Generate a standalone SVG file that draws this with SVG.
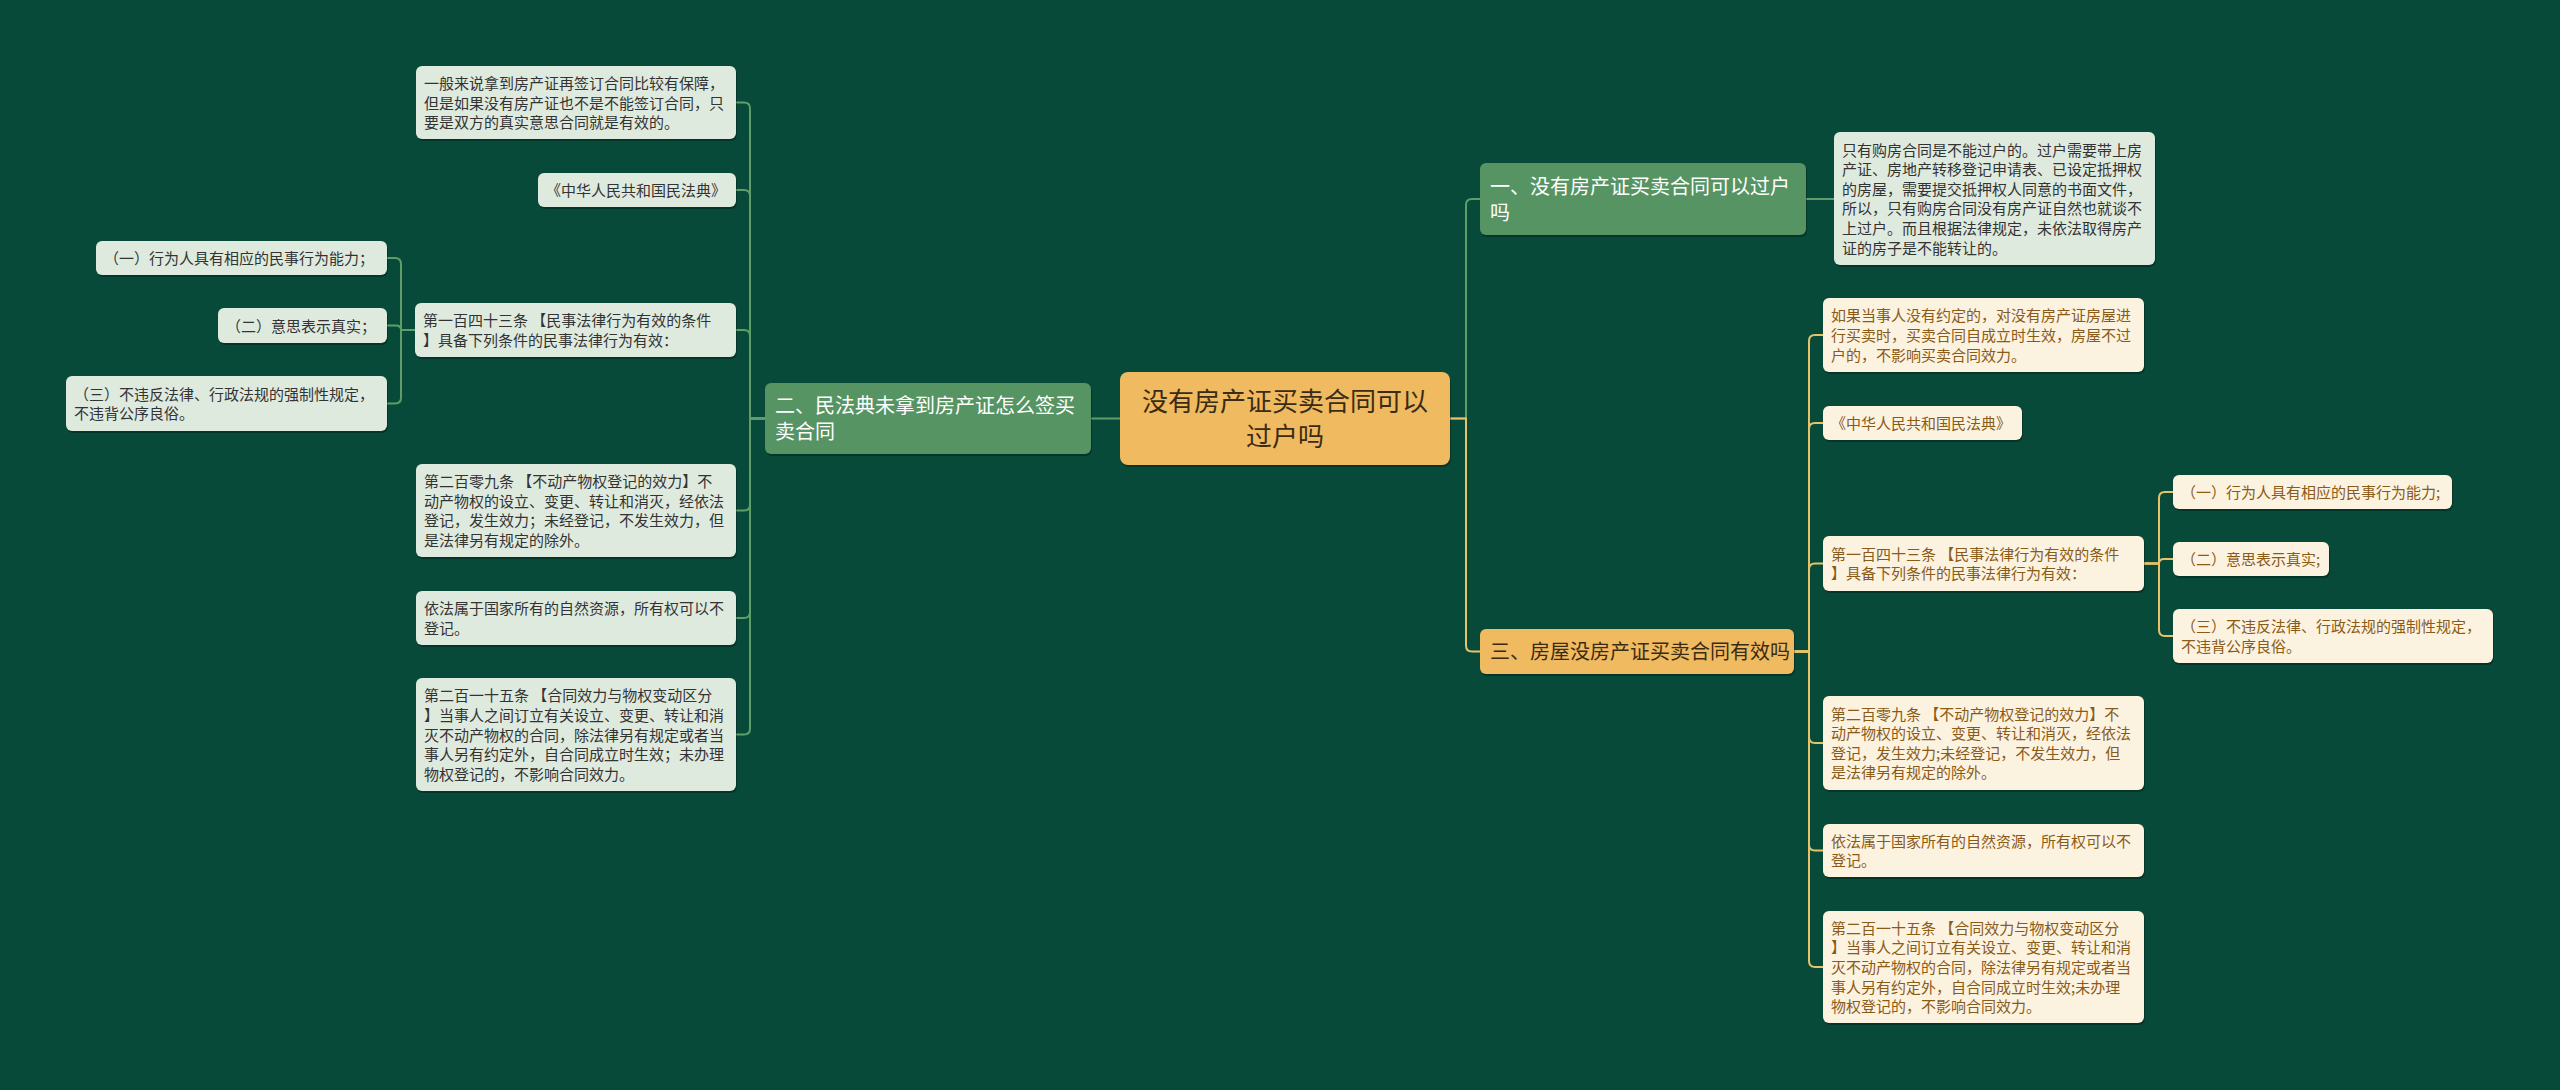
<svg xmlns="http://www.w3.org/2000/svg" width="2560" height="1090" viewBox="0 0 2560 1090">
<style>
text{font-family:"Noto Sans CJK SC","Noto Sans",sans-serif;}
.sh{fill:#000;opacity:0.28;}
.root{fill:#f0ba60;}
.gb{fill:#569463;}
.ob{fill:#f0ba60;}
.lg{fill:#dfeadf;}
.cr{fill:#fcf2e0;}
.tr{font-size:26px;fill:#3a2c14;text-anchor:middle;}
.tw{font-size:20px;fill:#ffffff;}
.to{font-size:20px;fill:#3a2c14;}
.tg{font-size:15px;fill:#333333;}
.tc{font-size:15px;fill:#8a5a17;}
.cg{fill:none;stroke:#5f9e69;stroke-width:2;}
.cy{fill:none;stroke:#e6c26a;stroke-width:2;}
</style>
<rect width="2560" height="1090" fill="#084a3a"/>
<g id="connectors">
<path class="cg" d="M1120,418.5 H1091"/>
<path class="cg" d="M765,418.5 H750 V108.5 Q750,102.5 744,102.5 H736"/>
<path class="cg" d="M765,418.5 H750 V196 Q750,190 744,190 H736"/>
<path class="cg" d="M765,418.5 H750 V336 Q750,330 744,330 H736"/>
<path class="cg" d="M765,418.5 H750 V504.5 Q750,510.5 744,510.5 H736"/>
<path class="cg" d="M765,418.5 H750 V612 Q750,618 744,618 H736"/>
<path class="cg" d="M765,418.5 H750 V728.5 Q750,734.5 744,734.5 H736"/>
<path class="cg" d="M415,330 H401 V264 Q401,258 395,258 H387"/>
<path class="cg" d="M415,330 H401 Q401,325.5 396,325.5 H387"/>
<path class="cg" d="M415,330 H401 V397.5 Q401,403.5 395,403.5 H387"/>
<path class="cg" d="M1450,418.5 H1466 V205 Q1466,199 1472,199 H1480"/>
<path class="cy" d="M1450,418.5 H1466 V645.5 Q1466,651.5 1472,651.5 H1480"/>
<path class="cg" d="M1806,199 H1834"/>
<path class="cy" d="M1794,651.5 H1809 V341 Q1809,335 1815,335 H1823"/>
<path class="cy" d="M1794,651.5 H1809 V429 Q1809,423 1815,423 H1823"/>
<path class="cy" d="M1794,651.5 H1809 V569.5 Q1809,563.5 1815,563.5 H1823"/>
<path class="cy" d="M1794,651.5 H1809 V737 Q1809,743 1815,743 H1823"/>
<path class="cy" d="M1794,651.5 H1809 V844.5 Q1809,850.5 1815,850.5 H1823"/>
<path class="cy" d="M1794,651.5 H1809 V961 Q1809,967 1815,967 H1823"/>
<path class="cy" d="M2144,563.5 H2159 V498 Q2159,492 2165,492 H2173"/>
<path class="cy" d="M2144,563.5 H2159 Q2159,559 2164,559 H2173"/>
<path class="cy" d="M2144,563.5 H2159 V630 Q2159,636 2165,636 H2173"/>
</g>
<g id="root">
<rect class="sh" x="1121" y="374" width="330" height="93" rx="8"/>
<rect class="root" x="1120" y="372" width="330" height="93" rx="8"/>
<text class="tr" x="1285" y="411">没有房产证买卖合同可以</text>
<text class="tr" x="1285" y="446">过户吗</text>
</g>
<g id="b1">
<rect class="sh" x="1481" y="165" width="326" height="72" rx="6"/>
<rect class="gb" x="1480" y="163" width="326" height="72" rx="6"/>
<text class="tw" x="1490" y="193.5">一、没有房产证买卖合同可以过户</text>
<text class="tw" x="1490" y="219.5">吗</text>
</g>
<g id="b2">
<rect class="sh" x="766" y="385" width="326" height="71" rx="6"/>
<rect class="gb" x="765" y="383" width="326" height="71" rx="6"/>
<text class="tw" x="775" y="412.5">二、民法典未拿到房产证怎么签买</text>
<text class="tw" x="775" y="438.5">卖合同</text>
</g>
<g id="b3">
<rect class="sh" x="1481" y="631" width="314" height="45" rx="6"/>
<rect class="ob" x="1480" y="629" width="314" height="45" rx="6"/>
<text class="to" x="1490" y="658.5">三、房屋没房产证买卖合同有效吗</text>
</g>
<g id="L1">
<rect class="sh" x="417" y="68" width="320" height="73" rx="6"/>
<rect class="lg" x="416" y="66" width="320" height="73" rx="6"/>
<text class="tg" x="424"><tspan x="424" y="88.9">一般来说拿到房产证再签订合同比较有保障，</tspan><tspan x="424" y="108.5">但是如果没有房产证也不是不能签订合同，只</tspan><tspan x="424" y="128.1">要是双方的真实意思合同就是有效的。</tspan></text>
</g>
<g id="L2">
<rect class="sh" x="539" y="175" width="198" height="34" rx="6"/>
<rect class="lg" x="538" y="173" width="198" height="34" rx="6"/>
<text class="tg" x="546" y="196">《中华人民共和国民法典》</text>
</g>
<g id="L3">
<rect class="sh" x="416" y="305" width="321" height="54" rx="6"/>
<rect class="lg" x="415" y="303" width="321" height="54" rx="6"/>
<text class="tg"><tspan x="423" y="326.2">第一百四十三条 【民事法律行为有效的条件</tspan><tspan x="423" y="345.8">】具备下列条件的民事法律行为有效：</tspan></text>
</g>
<g id="L3a">
<rect class="sh" x="97" y="243" width="291" height="34" rx="6"/>
<rect class="lg" x="96" y="241" width="291" height="34" rx="6"/>
<text class="tg" x="104" y="264">（一）行为人具有相应的民事行为能力；</text>
</g>
<g id="L3b">
<rect class="sh" x="219" y="310" width="169" height="35" rx="6"/>
<rect class="lg" x="218" y="308" width="169" height="35" rx="6"/>
<text class="tg" x="226" y="331.5">（二）意思表示真实；</text>
</g>
<g id="L3c">
<rect class="sh" x="67" y="378" width="321" height="55" rx="6"/>
<rect class="lg" x="66" y="376" width="321" height="55" rx="6"/>
<text class="tg"><tspan x="74" y="399.7">（三）不违反法律、行政法规的强制性规定，</tspan><tspan x="74" y="419.3">不违背公序良俗。</tspan></text>
</g>
<g id="L4">
<rect class="sh" x="417" y="466" width="320" height="93" rx="6"/>
<rect class="lg" x="416" y="464" width="320" height="93" rx="6"/>
<text class="tg"><tspan x="424" y="487.1">第二百零九条 【不动产物权登记的效力】不</tspan><tspan x="424" y="506.7">动产物权的设立、变更、转让和消灭，经依法</tspan><tspan x="424" y="526.3">登记，发生效力；未经登记，不发生效力，但</tspan><tspan x="424" y="545.9">是法律另有规定的除外。</tspan></text>
</g>
<g id="L5">
<rect class="sh" x="417" y="593" width="320" height="54" rx="6"/>
<rect class="lg" x="416" y="591" width="320" height="54" rx="6"/>
<text class="tg"><tspan x="424" y="614.2">依法属于国家所有的自然资源，所有权可以不</tspan><tspan x="424" y="633.8">登记。</tspan></text>
</g>
<g id="L6">
<rect class="sh" x="417" y="680" width="320" height="113" rx="6"/>
<rect class="lg" x="416" y="678" width="320" height="113" rx="6"/>
<text class="tg"><tspan x="424" y="701.3">第二百一十五条 【合同效力与物权变动区分</tspan><tspan x="424" y="720.9">】当事人之间订立有关设立、变更、转让和消</tspan><tspan x="424" y="740.5">灭不动产物权的合同，除法律另有规定或者当</tspan><tspan x="424" y="760.1">事人另有约定外，自合同成立时生效；未办理</tspan><tspan x="424" y="779.7">物权登记的，不影响合同效力。</tspan></text>
</g>
<g id="R1">
<rect class="sh" x="1835" y="134" width="321" height="133" rx="6"/>
<rect class="lg" x="1834" y="132" width="321" height="133" rx="6"/>
<text class="tg"><tspan x="1842" y="155.5">只有购房合同是不能过户的。过户需要带上房</tspan><tspan x="1842" y="175.1">产证、房地产转移登记申请表、已设定抵押权</tspan><tspan x="1842" y="194.7">的房屋，需要提交抵押权人同意的书面文件，</tspan><tspan x="1842" y="214.3">所以，只有购房合同没有房产证自然也就谈不</tspan><tspan x="1842" y="233.9">上过户。而且根据法律规定，未依法取得房产</tspan><tspan x="1842" y="253.5">证的房子是不能转让的。</tspan></text>
</g>
<g id="R2">
<rect class="sh" x="1824" y="300" width="321" height="74" rx="6"/>
<rect class="cr" x="1823" y="298" width="321" height="74" rx="6"/>
<text class="tc"><tspan x="1831" y="321.4">如果当事人没有约定的，对没有房产证房屋进</tspan><tspan x="1831" y="341">行买卖时，买卖合同自成立时生效，房屋不过</tspan><tspan x="1831" y="360.6">户的，不影响买卖合同效力。</tspan></text>
</g>
<g id="R3">
<rect class="sh" x="1824" y="408" width="199" height="34" rx="6"/>
<rect class="cr" x="1823" y="406" width="199" height="34" rx="6"/>
<text class="tc" x="1831" y="429">《中华人民共和国民法典》</text>
</g>
<g id="R4">
<rect class="sh" x="1824" y="538" width="321" height="55" rx="6"/>
<rect class="cr" x="1823" y="536" width="321" height="55" rx="6"/>
<text class="tc"><tspan x="1831" y="559.7">第一百四十三条 【民事法律行为有效的条件</tspan><tspan x="1831" y="579.3">】具备下列条件的民事法律行为有效：</tspan></text>
</g>
<g id="R4a">
<rect class="sh" x="2174" y="477" width="279" height="34" rx="6"/>
<rect class="cr" x="2173" y="475" width="279" height="34" rx="6"/>
<text class="tc" x="2181" y="498">（一）行为人具有相应的民事行为能力;</text>
</g>
<g id="R4b">
<rect class="sh" x="2174" y="544" width="156" height="34" rx="6"/>
<rect class="cr" x="2173" y="542" width="156" height="34" rx="6"/>
<text class="tc" x="2181" y="565">（二）意思表示真实;</text>
</g>
<g id="R4c">
<rect class="sh" x="2174" y="611" width="320" height="54" rx="6"/>
<rect class="cr" x="2173" y="609" width="320" height="54" rx="6"/>
<text class="tc"><tspan x="2181" y="632.2">（三）不违反法律、行政法规的强制性规定，</tspan><tspan x="2181" y="651.8">不违背公序良俗。</tspan></text>
</g>
<g id="R5">
<rect class="sh" x="1824" y="698" width="321" height="94" rx="6"/>
<rect class="cr" x="1823" y="696" width="321" height="94" rx="6"/>
<text class="tc"><tspan x="1831" y="719.6">第二百零九条 【不动产物权登记的效力】不</tspan><tspan x="1831" y="739.2">动产物权的设立、变更、转让和消灭，经依法</tspan><tspan x="1831" y="758.8">登记，发生效力;未经登记，不发生效力，但</tspan><tspan x="1831" y="778.4">是法律另有规定的除外。</tspan></text>
</g>
<g id="R6">
<rect class="sh" x="1824" y="826" width="321" height="53" rx="6"/>
<rect class="cr" x="1823" y="824" width="321" height="53" rx="6"/>
<text class="tc"><tspan x="1831" y="846.7">依法属于国家所有的自然资源，所有权可以不</tspan><tspan x="1831" y="866.3">登记。</tspan></text>
</g>
<g id="R7">
<rect class="sh" x="1824" y="913" width="321" height="112" rx="6"/>
<rect class="cr" x="1823" y="911" width="321" height="112" rx="6"/>
<text class="tc"><tspan x="1831" y="933.8">第二百一十五条 【合同效力与物权变动区分</tspan><tspan x="1831" y="953.4">】当事人之间订立有关设立、变更、转让和消</tspan><tspan x="1831" y="973">灭不动产物权的合同，除法律另有规定或者当</tspan><tspan x="1831" y="992.6">事人另有约定外，自合同成立时生效;未办理</tspan><tspan x="1831" y="1012.2">物权登记的，不影响合同效力。</tspan></text>
</g>
</svg>
